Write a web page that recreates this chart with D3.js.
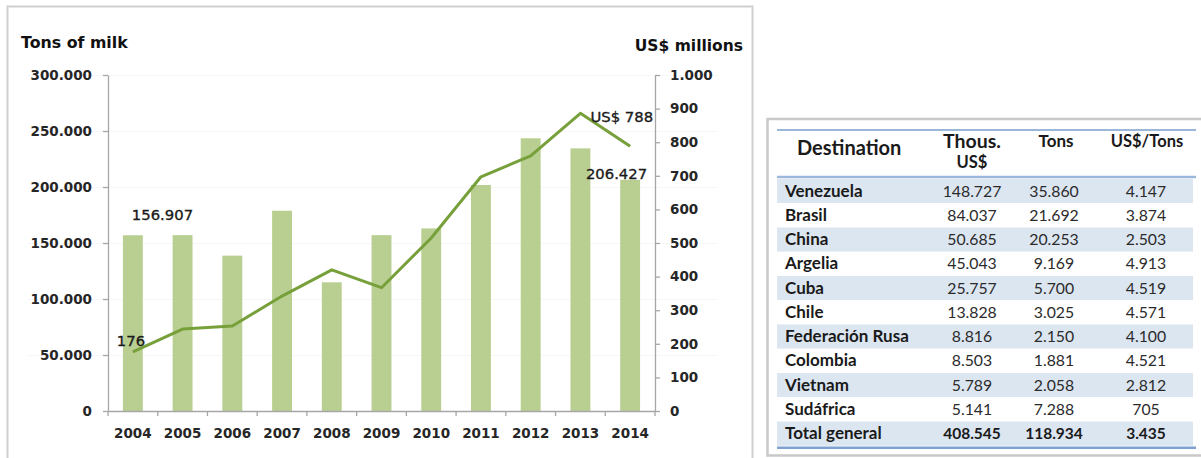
<!DOCTYPE html>
<html>
<head>
<meta charset="utf-8">
<script src="https://cdn.jsdelivr.net/npm/d3@7/dist/d3.min.js"></script>
<style>
  body { margin: 0; background: #fff; }
  svg { display: block; }
</style>
</head>
<body>
<svg id="chart" width="1201" height="458"></svg>
<script>
// ---- Milk exports by year ----
const years = ["2004", "2005", "2006", "2007", "2008", "2009", "2010", "2011", "2012", "2013", "2014"];
const tonsOfMilk = [156907, 157000, 138700, 178800, 114900, 157000, 163000, 201800, 243500, 234500, 206427];
const usdMillions = [176, 244, 253, 342, 420, 367, 515, 697, 759, 886, 788];
const tonsTicks = [0, 50000, 100000, 150000, 200000, 250000, 300000];
const usdTicks = [0, 100, 200, 300, 400, 500, 600, 700, 800, 900, 1000];

// ---- 2014 destinations ----
const destinations = ["Venezuela", "Brasil", "China", "Argelia", "Cuba", "Chile",
  "Federación Rusa", "Colombia", "Vietnam", "Sudáfrica"];
const destThousUsd = [148727, 84037, 50685, 45043, 25757, 13828, 8816, 8503, 5789, 5141];
const destTons = [35860, 21692, 20253, 9169, 5700, 3025, 2150, 1881, 2058, 7288];
const destUsdPerTon = [4147, 3874, 2503, 4913, 4519, 4571, 4100, 4521, 2812, 705];
const totalRow = ["Total general", 408545, 118934, 3435];
const tableHeader = ["Destination", "Thous.", "US$", "Tons", "US$/Tons"];

const es = d3.formatLocale({ decimal: ",", thousands: ".", grouping: [3], currency: ["", ""] });
const fmt = es.format(",d");

const svg = d3.select("#chart");

// ================= Combo chart =================
const plot = { left: 108, right: 655, top: 75, bottom: 411 };

const x = d3.scaleBand().domain(years).range([plot.left, plot.right]).paddingInner(0.6).paddingOuter(0.3);
const xBand = d3.scaleBand().domain(years).range([plot.left, plot.right]);
const yL = d3.scaleLinear().domain([0, 300000]).range([plot.bottom, plot.top]);
const yR = d3.scaleLinear().domain([0, 1000]).range([plot.bottom, plot.top]);

// outer frame of the chart
svg.append("rect")
  .attr("x", 7.5).attr("y", 6.5).attr("width", 745).attr("height", 460)
  .attr("fill", "none").attr("stroke", "#d0d0d0").attr("stroke-width", 2);

// faint horizontal guides
svg.append("g").selectAll("line").data(tonsTicks.slice(1))
  .join("line")
  .attr("x1", 28).attr("x2", 718)
  .attr("y1", d => yL(d) + 0.5).attr("y2", d => yL(d) + 0.5)
  .attr("stroke", "#f6f6f6").attr("stroke-width", 1);

// bars: tons of milk
svg.append("g").selectAll("rect").data(years)
  .join("rect")
  .attr("x", d => x(d))
  .attr("width", x.bandwidth())
  .attr("y", (d, i) => yL(tonsOfMilk[i]))
  .attr("height", (d, i) => yL(0) - yL(tonsOfMilk[i]))
  .attr("fill", "#b8cf91");

// line: US$ millions
const line = d3.line()
  .x((d, i) => xBand(years[i]) + xBand.bandwidth() / 2)
  .y(d => yR(d));
svg.append("path")
  .datum(usdMillions)
  .attr("d", line)
  .attr("fill", "none")
  .attr("stroke", "#77a03b")
  .attr("stroke-width", 3)
  .attr("stroke-linejoin", "round");

const tickFont = "DejaVu Sans, Verdana, sans-serif";

function styleAxis(g) {
  g.select(".domain").attr("stroke", "#a6a6a6").attr("stroke-width", 1.3);
  g.selectAll(".tick line").attr("stroke", "#a6a6a6").attr("stroke-width", 1.3);
  g.selectAll(".tick text")
    .attr("fill", "#262626")
    .style("font-family", tickFont)
    .style("font-size", "13.5px")
    .style("font-weight", "bold");
}

// left axis (tons)
svg.append("g")
  .attr("transform", `translate(${plot.left},0)`)
  .call(d3.axisLeft(yL).tickValues(tonsTicks).tickFormat(fmt).tickSize(5).tickSizeOuter(0).tickPadding(11))
  .call(styleAxis);

// right axis (US$ millions)
svg.append("g")
  .attr("transform", `translate(${plot.right},0)`)
  .call(d3.axisRight(yR).tickValues(usdTicks).tickFormat(fmt).tickSize(5).tickSizeOuter(0).tickPadding(10))
  .call(styleAxis);

// bottom axis: labels centred in each band, ticks on band boundaries
const xAxisG = svg.append("g")
  .attr("transform", `translate(0,${plot.bottom})`)
  .call(d3.axisBottom(xBand).tickSize(0).tickSizeOuter(0).tickPadding(17))
  .call(styleAxis);
xAxisG.selectAll("line.sep").data(years.concat(["end"]))
  .join("line")
  .attr("class", "sep")
  .attr("x1", (d, i) => i < years.length ? xBand(d) : plot.right)
  .attr("x2", (d, i) => i < years.length ? xBand(d) : plot.right)
  .attr("y1", 0).attr("y2", 5)
  .attr("stroke", "#a6a6a6").attr("stroke-width", 1.3);

// axis titles
svg.append("text")
  .attr("x", 21).attr("y", 48)
  .attr("fill", "#111")
  .style("font-family", tickFont).style("font-size", "15.8px").style("font-weight", "bold")
  .text("Tons of milk");
svg.append("text")
  .attr("x", 743).attr("y", 51).attr("text-anchor", "end")
  .attr("fill", "#111")
  .style("font-family", tickFont).style("font-size", "15.5px").style("font-weight", "bold")
  .text("US$ millions");

// data labels
const cx = i => xBand(years[i]) + xBand.bandwidth() / 2;
const labelStyle = s => s.attr("fill", "#1a1a1a")
  .attr("stroke", "#1a1a1a").attr("stroke-width", 0.35)
  .style("font-family", tickFont).style("font-size", "14.8px");
const last = years.length - 1;
svg.append("text").attr("x", cx(0) - 1).attr("y", yL(tonsOfMilk[0]) - 15)
  .call(labelStyle).text(fmt(tonsOfMilk[0]));
svg.append("text").attr("x", cx(0) - 16).attr("y", yR(usdMillions[0]) - 6)
  .call(labelStyle).text(fmt(usdMillions[0]));
svg.append("text").attr("x", cx(last) + 23).attr("y", yR(usdMillions[last]) - 24)
  .attr("text-anchor", "end").call(labelStyle).text("US$ " + fmt(usdMillions[last]));
svg.append("text").attr("x", cx(last) + 17).attr("y", yL(tonsOfMilk[last]) - 1)
  .attr("text-anchor", "end").call(labelStyle).text(fmt(tonsOfMilk[last]));

// ================= Destinations table =================
const tbl = { left: 777, right: 1196, rowTop: 179, rowH: 24.25 };
const colCenter = [972, 1054, 1146];
const tableFont = "Lato, 'Open Sans', sans-serif";

// table frame
svg.append("path")
  .attr("d", "M1205,119 H767.5 V455.5 H1205")
  .attr("fill", "none").attr("stroke", "#c9c9c9").attr("stroke-width", 2.5);

// top rule
svg.append("line")
  .attr("x1", tbl.left).attr("x2", tbl.right).attr("y1", 130).attr("y2", 130)
  .attr("stroke", "#9bb7da").attr("stroke-width", 2);

const rows = destinations.map((d, i) => [d, destThousUsd[i], destTons[i], destUsdPerTon[i]]).concat([totalRow]);

// banded row shading
svg.append("g").selectAll("rect").data(rows)
  .join("rect")
  .attr("x", tbl.left).attr("width", 1193 - tbl.left)
  .attr("y", (d, i) => tbl.rowTop + i * tbl.rowH)
  .attr("height", tbl.rowH)
  .attr("fill", (d, i) => i % 2 === 0 ? "#dce6f1" : "#fff");

// header underline and bottom rule
svg.append("line")
  .attr("x1", tbl.left).attr("x2", tbl.right).attr("y1", 177).attr("y2", 177)
  .attr("stroke", "#9bb7da").attr("stroke-width", 2.5);
svg.append("line")
  .attr("x1", tbl.left).attr("x2", tbl.right)
  .attr("y1", tbl.rowTop + rows.length * tbl.rowH + 2).attr("y2", tbl.rowTop + rows.length * tbl.rowH + 2)
  .attr("stroke", "#7ea2cf").attr("stroke-width", 2.5);

// header text
const hdr = svg.append("g").attr("fill", "#1a1a1a").style("font-family", tableFont).style("font-weight", "bold");
hdr.append("text").attr("x", 797).attr("y", 155).style("font-size", "20px").text(tableHeader[0]);
hdr.append("text").attr("x", colCenter[0]).attr("y", 148).attr("text-anchor", "middle").style("font-size", "19.5px").text(tableHeader[1]);
hdr.append("text").attr("x", colCenter[0]).attr("y", 168).attr("text-anchor", "middle").style("font-size", "16.5px").text(tableHeader[2]);
hdr.append("text").attr("x", 1056).attr("y", 147).attr("text-anchor", "middle").style("font-size", "17px").text(tableHeader[3]);
hdr.append("text").attr("x", 1147).attr("y", 147).attr("text-anchor", "middle").style("font-size", "16.5px").text(tableHeader[4]);

// body text
const body = svg.append("g").style("font-family", tableFont).attr("fill", "#1a1a1a");
rows.forEach((r, i) => {
  const y = tbl.rowTop + i * tbl.rowH + tbl.rowH / 2 + 5.5;
  const isTotal = i === rows.length - 1;
  body.append("text").attr("x", 785).attr("y", y)
    .style("font-size", "17px").style("font-weight", "bold").text(r[0]);
  r.slice(1).forEach((v, j) => {
    body.append("text")
      .attr("x", colCenter[j]).attr("y", y)
      .attr("text-anchor", "middle")
      .attr("fill", isTotal ? "#1a1a1a" : "#2b2b2b")
      .style("font-size", isTotal ? "15.5px" : "15.8px")
      .style("font-weight", isTotal ? "bold" : "normal")
      .text(fmt(v));
  });
});
</script>
</body>
</html>
